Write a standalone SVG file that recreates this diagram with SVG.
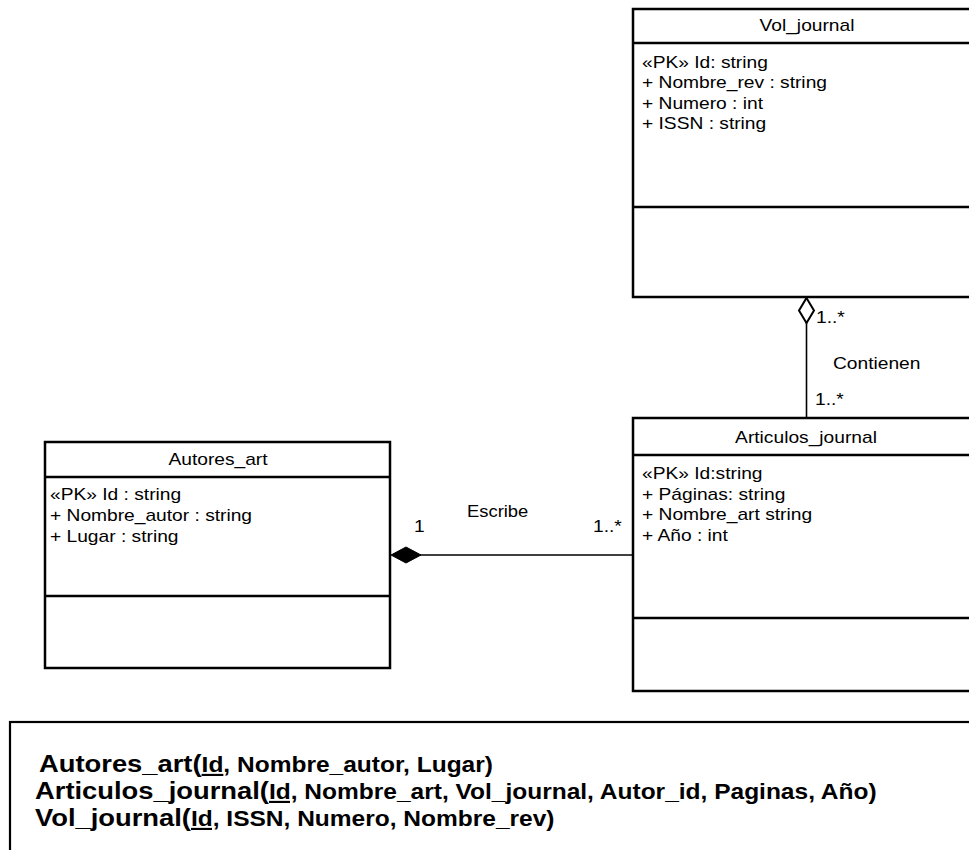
<svg xmlns="http://www.w3.org/2000/svg" width="969" height="850" viewBox="0 0 969 850">
  <style>
    .box { fill: #fff; stroke: #000; stroke-width: 2.5; }
    .div { stroke: #000; stroke-width: 2.5; fill: none; }
    .conn { stroke: #000; stroke-width: 1.6; fill: none; }
    .t { font-family: "Liberation Sans", Arial, Helvetica, sans-serif; font-size: 16px; fill: #000; }
    .mid { text-anchor: middle; }
    .rel { font-family: "Liberation Sans", Arial, Helvetica, sans-serif; font-weight: bold; fill: #000; }
    .big { font-size: 24px; }
    .small { font-size: 21.5px; }
  </style>
  <rect width="969" height="850" fill="#fff"/>

  <!-- Vol_journal class -->
  <g id="vol_journal">
    <rect class="box" x="633" y="9" width="360" height="288"/>
    <line class="div" x1="633" y1="43" x2="969" y2="43"/>
    <line class="div" x1="633" y1="207" x2="969" y2="207"/>
    <text class="t mid" transform="translate(807 31) scale(1.2 1)">Vol_journal</text>
    <text class="t" transform="translate(642 67.5) scale(1.2 1)">«PK» Id: string</text>
    <text class="t" transform="translate(642 88) scale(1.2 1)">+ Nombre_rev : string</text>
    <text class="t" transform="translate(642 108.5) scale(1.2 1)">+ Numero : int</text>
    <text class="t" transform="translate(642 129) scale(1.2 1)">+ ISSN : string</text>
  </g>

  <!-- Articulos_journal class -->
  <g id="articulos_journal">
    <rect class="box" x="633" y="418" width="360" height="273"/>
    <line class="div" x1="633" y1="455" x2="969" y2="455"/>
    <line class="div" x1="633" y1="618" x2="969" y2="618"/>
    <text class="t mid" transform="translate(806 443) scale(1.2 1)">Articulos_journal</text>
    <text class="t" transform="translate(642 479) scale(1.2 1)">«PK» Id:string</text>
    <text class="t" transform="translate(642 499.5) scale(1.2 1)">+ Páginas: string</text>
    <text class="t" transform="translate(642 520) scale(1.2 1)">+ Nombre_art string</text>
    <text class="t" transform="translate(642 540.5) scale(1.2 1)">+ Año : int</text>
  </g>

  <!-- Autores_art class -->
  <g id="autores_art">
    <rect class="box" x="45" y="442" width="345" height="226"/>
    <line class="div" x1="45" y1="477" x2="390" y2="477"/>
    <line class="div" x1="45" y1="596" x2="390" y2="596"/>
    <text class="t mid" transform="translate(218 465) scale(1.2 1)">Autores_art</text>
    <text class="t" transform="translate(50 499.5) scale(1.2 1)">«PK» Id : string</text>
    <text class="t" transform="translate(50 520.5) scale(1.2 1)">+ Nombre_autor : string</text>
    <text class="t" transform="translate(50 541.5) scale(1.2 1)">+ Lugar : string</text>
  </g>

  <!-- Associations -->
  <g id="connectors">
    <!-- Escribe: composition Autores_art 1 — 1..* Articulos_journal -->
    <line class="conn" x1="420" y1="555" x2="633" y2="555"/>
    <polygon points="391,555 406,547 421,555 406,563" fill="#000" stroke="#000" stroke-width="1"/>
    <text class="t" transform="translate(414 532) scale(1.2 1)">1</text>
    <text class="t" transform="translate(467 517) scale(1.15 1)">Escribe</text>
    <text class="t" transform="translate(593 532) scale(1.2 1)">1..*</text>

    <!-- Contienen: aggregation Vol_journal 1..* — 1..* Articulos_journal -->
    <line class="conn" x1="806.5" y1="323" x2="806.5" y2="418"/>
    <polygon points="806.5,298 814,310.5 806.5,323 799,310.5" fill="#fff" stroke="#000" stroke-width="2"/>
    <text class="t" transform="translate(816 323) scale(1.2 1)">1..*</text>
    <text class="t" transform="translate(833 369) scale(1.2 1)">Contienen</text>
    <text class="t" transform="translate(815 405) scale(1.2 1)">1..*</text>
  </g>

  <!-- Relational schema -->
  <g id="schema">
    <rect x="10" y="722" width="980" height="160" fill="#fff" stroke="#000" stroke-width="2.2"/>
    <text class="rel" transform="translate(39 772) scale(1.14 1)"><tspan class="big">Autores_art(</tspan><tspan class="small" text-decoration="underline">Id</tspan><tspan class="small">, Nombre_autor, Lugar)</tspan></text>
    <text class="rel" transform="translate(35 799) scale(1.14 1)"><tspan class="big">Articulos_journal(</tspan><tspan class="small" text-decoration="underline">Id,</tspan><tspan class="small"> Nombre_art, Vol_journal, Autor_id, Paginas, Año)</tspan></text>
    <text class="rel" transform="translate(35 826) scale(1.14 1)"><tspan class="big">Vol_journal(</tspan><tspan class="small" text-decoration="underline">Id,</tspan><tspan class="small"> ISSN, Numero, Nombre_rev)</tspan></text>
  </g>
</svg>
